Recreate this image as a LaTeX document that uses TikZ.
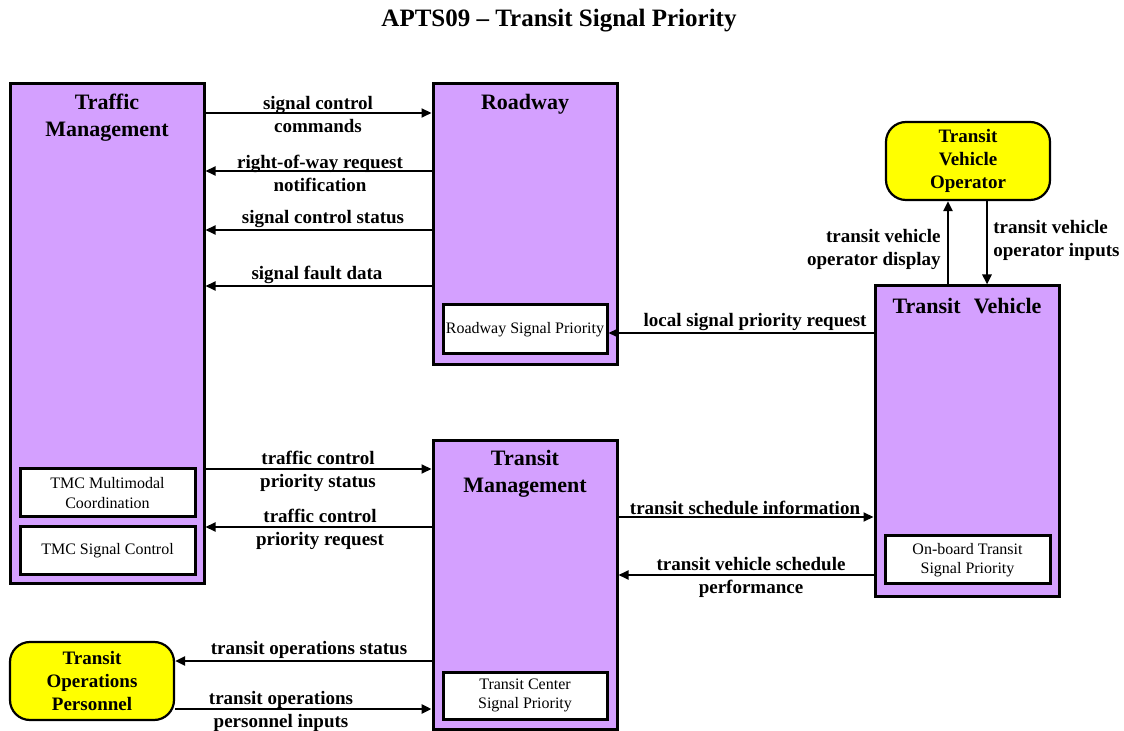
\documentclass[tikz,border=0pt]{standalone}
\usepackage{fontspec}
\setmainfont{Liberation Serif}
\usetikzlibrary{arrows.meta}
\definecolor{boxpurple}{RGB}{212,160,255}
\definecolor{actyellow}{RGB}{255,255,0}
\begin{document}
\begin{tikzpicture}[x=0.5pt,y=-0.5pt,
 sysbox/.style={draw=black, line width=1.5pt, fill=boxpurple, inner sep=0pt},
 subbox/.style={draw=black, line width=1.5pt, fill=white, inner sep=0pt, align=center, font=\fontsize{8}{9.8}\selectfont},
 actor/.style={draw=black, line width=1.1pt, fill=actyellow, rounded corners=10pt, inner sep=0pt, align=center, font=\bfseries\fontsize{9.5}{11.5}\selectfont},
 systitle/.style={font=\bfseries\fontsize{11}{13.5}\selectfont, align=center, inner sep=0pt},
 flow/.style={line width=1pt, -{Triangle[length=5pt,width=4.5pt]}},
 thickflow/.style={flow, line width=1.4pt},
 flowlab/.style={font=\bfseries\fontsize{9.5}{11.5}\selectfont, align=center, inner sep=0pt},
]
\useasboundingbox[fill=white] (0,0) rectangle (1124,731);

% title
\node[font=\bfseries\fontsize{12.5}{15}\selectfont, inner sep=0pt] (title) at (559,21) {APTS09 -- Transit Signal Priority};

% systems
\node[sysbox, minimum width=97pt, minimum height=250pt] (tm) at (107,334) {};
\node[systitle] (tmt) at (107,118) {Traffic\\Management};
\node[subbox, minimum width=87.5pt, minimum height=24pt] (tmcmm) at (107.5,493) {TMC Multimodal\\Coordination};
\node[subbox, minimum width=87.5pt, minimum height=24pt] (tmcsc) at (107.5,551) {TMC Signal Control};

\node[sysbox, minimum width=92pt, minimum height=140.5pt] (rw) at (525,224.5) {};
\node[systitle] (rwt) at (525,104) {Roadway};
\node[subbox, minimum width=82pt, minimum height=24.5pt] (rsp) at (525,329.5) {Roadway Signal Priority};

\node[sysbox, minimum width=92pt, minimum height=144pt] (trm) at (525,585) {};
\node[systitle] (trmt) at (525,474) {Transit\\Management};
\node[subbox, minimum width=82pt, minimum height=23.5pt] (tcsp) at (525,695.5) {Transit Center\\Signal Priority};

\node[sysbox, minimum width=92pt, minimum height=155pt] (tv) at (967,441) {};
\node[systitle] (tvt) at (967,306) {Transit\hspace{0.6em}Vehicle};
\node[subbox, minimum width=82.5pt, minimum height=24pt] (otsp) at (967.5,560) {On-board Transit\\Signal Priority};

% actors
\node[actor, minimum width=82pt, minimum height=39pt] (tvo) at (968,161) {Transit\\Vehicle\\Operator};
\node[actor, minimum width=82pt, minimum height=39pt] (top) at (92,681) {Transit\\Operations\\Personnel};

% flows: Traffic Management <-> Roadway
\draw[flow] (tm.east |- 0,113) -- (rw.west |- 0,113);
\node[flowlab] (l1) at (318,115) {signal control\\commands};
\draw[flow] (rw.west |- 0,171) -- (tm.east |- 0,171);
\node[flowlab] (l2) at (320,173) {right-of-way request\\notification};
\draw[flow] (rw.west |- 0,230) -- (tm.east |- 0,230);
\node[flowlab, anchor=south] (l3) at (323,228) {signal control status};
\draw[flow] (rw.west |- 0,286) -- (tm.east |- 0,286);
\node[flowlab, anchor=south] (l4) at (317,284) {signal fault data};

% Transit Vehicle -> Roadway Signal Priority
\draw[flow] (tv.west |- 0,333) -- (rsp.east |- 0,333);
\node[flowlab, anchor=south] (l5) at (755,331) {local signal priority request};

% Traffic Management <-> Transit Management
\draw[flow] (tm.east |- 0,469) -- (trm.west |- 0,469);
\node[flowlab] (l6) at (318,471) {traffic control\\priority status};
\draw[flow] (trm.west |- 0,527) -- (tm.east |- 0,527);
\node[flowlab] (l7) at (320,529) {traffic control\\priority request};

% Transit Management <-> Transit Vehicle
\draw[flow] (trm.east |- 0,517) -- (tv.west |- 0,517);
\node[flowlab, anchor=south] (l8) at (745,515) {transit schedule information};
\draw[flow] (tv.west |- 0,575) -- (trm.east |- 0,575);
\node[flowlab] (l9) at (751,577) {transit vehicle schedule\\performance};

% Transit Management <-> Transit Operations Personnel
\draw[thickflow] (trm.west |- 0,661) -- (top.east |- 0,661);
\node[flowlab, anchor=south] (l10) at (309,659) {transit operations status};
\draw[thickflow] (top.east |- 0,709) -- (trm.west |- 0,709);
\node[flowlab] (l11) at (281,711) {transit operations\\personnel inputs};

% Transit Vehicle <-> Transit Vehicle Operator
\draw[thickflow] (tv.north -| 948,0) -- (tvo.south -| 948,0);
\node[flowlab, align=right, anchor=east] (l12) at (941,249) {transit vehicle\\operator display};
\draw[thickflow] (tvo.south -| 987,0) -- (tv.north -| 987,0);
\node[flowlab, align=left, anchor=west] (l13) at (993,240) {transit vehicle\\operator inputs};
\end{tikzpicture}
\end{document}
